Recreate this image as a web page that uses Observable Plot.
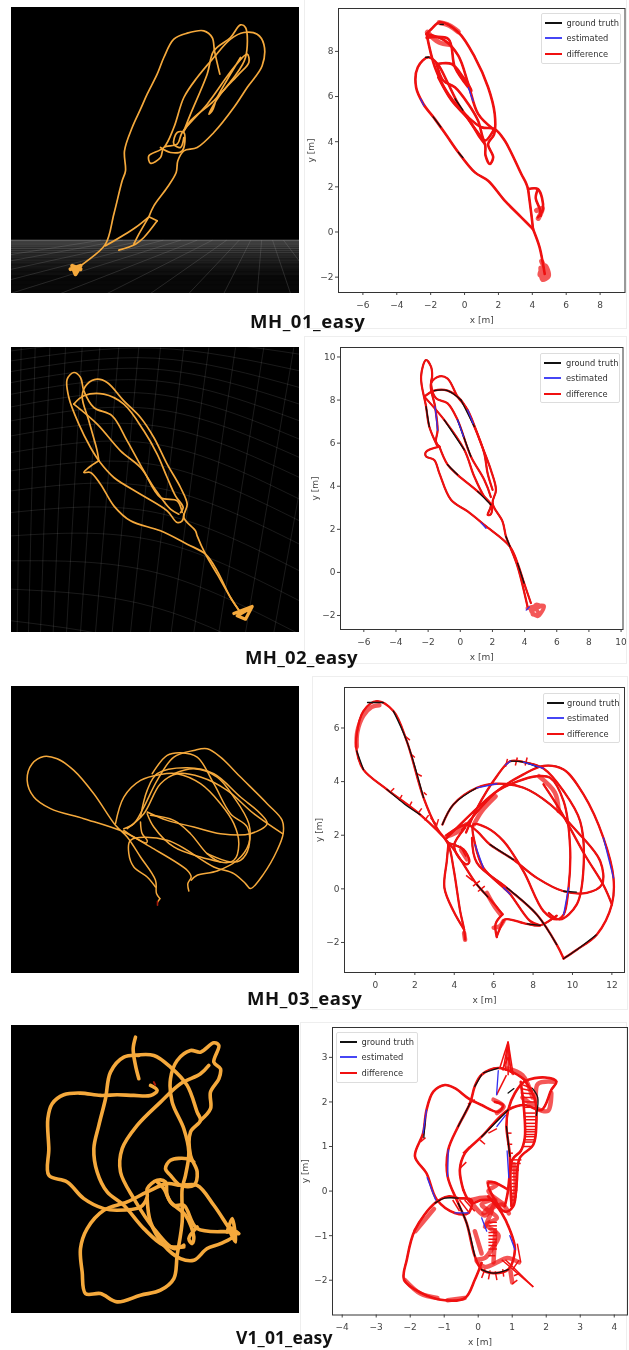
<!DOCTYPE html>
<html>
<head>
<meta charset="utf-8">
<script src="https://cdn.jsdelivr.net/npm/d3@7"></script>
<script src="https://cdn.jsdelivr.net/npm/@observablehq/plot@0.6"></script>
<style>
html,body{margin:0;padding:0;background:#fff;}
#root{position:relative;width:629px;height:1350px;overflow:hidden;}
.caption{position:absolute;font:bold 18.5px "Noto Sans",sans-serif;letter-spacing:.55px;color:#111;white-space:nowrap;line-height:1;filter:blur(.3px);}
.legend{position:absolute;box-sizing:border-box;background:rgba(255,255,255,.9);border:1px solid #ddd;border-radius:2px;font:8.3px "DejaVu Sans",sans-serif;color:#333;filter:blur(.35px);}
.legend div{position:absolute;white-space:nowrap;line-height:10px;}
.legend i{position:absolute;height:2px;width:17px;display:block;}
.sheet{position:absolute;box-sizing:border-box;border:1px solid #eee;}
svg{filter:blur(.35px);}
</style>
</head>
<body>
<div id="root"></div>
<script>
const ORANGE = "#f5a93c";
const legendLabels = ["ground truth", "estimated", "difference"];
const legendColors = ["#111", "#4646f5", "#f01010"];

// ---- tick labels ----
const mh01XTicks = [-6,-4,-2,0,2,4,6,8], mh01YTicks = [-2,0,2,4,6,8];
const mh02XTicks = [-6,-4,-2,0,2,4,6,8,10], mh02YTicks = [-2,0,2,4,6,8,10];
const mh03XTicks = [0,2,4,6,8,10,12], mh03YTicks = [-2,0,2,4,6];
const v101XTicks = [-4,-3,-2,-1,0,1,2,3,4], v101YTicks = [-2,-1,0,1,2,3];

// ---- MH_01 measured trajectory (metres) ----
const mh01Path = [
 [[4.73,-1.86],[4.63,-1.42],[4.43,-.68],[4.04,.13]],
 [[4.04,.13],[3.35,.65],[2.37,1.39],[1.39,2.27],[.61,2.64],[-.37,3.53],[-1.06,4.27],[-1.75,5],[-2.43,5.67],[-2.86,6.41],[-2.76,7.3],[-2.14,7.74],[-1.59,7.44],[-1.06,6.71],[-.37,5.67],[.41,4.79],[1.2,3.9],[1.24,3.38],[1.49,3.01],[1.69,3.31],[1.39,3.9],[1.75,4.34],[1.78,5.23],[1.39,6.41],[.61,7.74],[-.37,8.85],[-1.45,9.29],[-1.94,9],[-2.24,8.77]],
 [[-2.24,8.77],[-1.75,7.3],[-.96,6.11],[.22,5.08],[1,4.64],[1.78,4.56],[2.37,4.05],[3.35,2.57],[3.65,2.13],[3.75,1.9]],
 [[3.75,1.9],[4.33,1.9],[4.63,1.02],[4.33,.65]],
 [[3.75,1.9],[3.94,.8],[4.04,.13]],
 [[4.33,1.9],[4.2,1.5],[4.45,1.0],[4.5,.72]],
 [[-2.24,8.77],[-1.16,8.48],[-.37,7.81],[.22,6.56],[.8,5.23],[1.69,4.56]],
 [[-2.24,8.6],[-.96,8.55],[-.57,7.3],[.22,6.41],[.41,6.26],[-.08,6.85],[-.76,7.44],[-1.65,7.44]],
 [[-1.65,7.44],[-1.25,6.7],[-.57,6.41],[.22,5.67],[.8,4.93],[1.2,4.05],[1.75,4.56]],
 [[-1.55,6.85],[-.76,5.82],[.22,5.0],[.9,4.2],[1.2,3.9]]
];
const mh01Bands = [
 [[-1.5,9.28],[-.9,9.15],[-.37,8.87]],
 [[-2.2,8.85],[-1.5,8.4],[-.9,8.3]],
 [[4.55,-1.3],[4.8,-1.9],[4.45,-1.9],[4.75,-1.5],[4.95,-1.95],[4.6,-2.1],[4.5,-1.6]],
 [[4.25,.95],[4.6,1.05],[4.35,.6]]
];
const mh01Black = [[[-.37,3.53],[-.1,3.3]],[[-1.85,5.1],[-1.4,4.65]],[[-.56,5.9],[-.1,5.4]],[[-1.45,9.2],[-1.25,9.2]],[[-2.3,7.74],[-2.1,7.74]]];
const mh01Blue = [[[-2.6,5.9],[-2.4,5.6]],[[.22,6.4],[.5,5.8]]];

// ---- MH_02 measured trajectory (metres) ----
const mh02Path = [
 [[4.18,-1.58],[3.56,.28],[3.09,1.2],[2.84,1.67],[2.63,2.36],[2.01,3.2],[2.22,3.83],[1.9,4.76],[1.28,6],[.46,7.54],[-.17,8.16],[-.79,9],[-1.3,9.1],[-1.82,8.78],[-1.57,7.7],[-1.41,6.6],[-1.51,6.07],[-1.3,5.84]],
 [[-1.3,5.84],[-2.13,5.6],[-2.13,5.38],[-1.62,5.22],[-1.3,4.6],[-.58,3.37],[.46,2.83],[1.49,2.21],[3.09,1.2],[3.56,.43],[3.97,-.5],[4.39,-1.42]],
 [[-1.3,5.84],[-.79,5],[-.17,4.53],[1.08,3.76],[1.9,3.14],[1.7,2.67],[1.9,2.7],[2.01,3.2]],
 [[-1.45,5.9],[-1.93,6.77],[-2.13,7.7],[-2.44,9.09],[-2.13,9.86],[-1.82,9.55],[-1.75,9.1],[-1.82,8.78],[-1.51,8.08],[-.79,7.85],[-.17,7.08],[.66,5.38],[1.49,4.3],[1.9,3.5]],
 [[-2.24,8.16],[-1.62,8.44],[-.79,8.44],[.04,8],[.87,6.77],[1.49,5.53],[1.7,4.6],[2.01,3.83]],
 [[-2.24,8.16],[-1,7.08],[.25,5.69],[.87,4.45],[1.49,3.52],[1.95,3.14]]
];
const mh02Bands = [
 [[4.18,-1.66],[5.2,-1.55],[4.8,-2.04],[4.39,-1.73],[5,-1.58],[4.7,-1.5],[4.5,-1.95],[4.85,-1.9],[4.6,-1.6]]
];
const mh02Black = [[[-1.62,8.44],[-.79,8.44],[.04,8]],[[-1,7.08],[.25,5.69]],[[-.79,5],[-.17,4.53]],[[1.08,3.76],[1.9,3.14]],[[.04,8],[.87,6.77]],[[-.17,7.08],[.66,5.38]],[[2.84,1.67],[3.09,1.2]],[[3.56,.43],[3.97,-.5]],[[-1.93,6.77],[-2.13,7.7]]];
const mh02Blue = [[[-.17,7.08],[.2,6.3]],[[1.3,2.3],[1.6,2.05]],[[.46,7.54],[.8,6.9]],[[-1.57,7.7],[-1.41,6.6]],[[4.1,-1.75],[4.3,-1.6]]];

// ---- MH_03 measured trajectory (metres) ----
const mh03Path = [
 [[4.55,-1.89],[4.5,-1.52],[4.3,-.83],[3.96,.78],[3.7,1.65],[3.11,2.28],[2.44,3.4],[1.59,5.51],[.91,6.63],[.07,7],[-.61,6.63],[-.95,5.76],[-.95,5.14],[-.61,4.45],[.58,3.71],[2.27,2.77],[3.79,1.65],[5.15,.16],[5.91,-.46],[6.45,-.95]],
 [[6.45,-.95],[6.1,-1.3],[6.16,-1.8]],
 [[3.7,1.65],[3.62,1.03],[3.5,.04],[3.96,-.83],[4.5,-1.52]],
 [[3.75,1.7],[4.47,1.47],[4.77,1.03],[4.64,.91],[4.2,1.2],[4.0,1.65],[4.55,2.28]],
 [[6.16,-1.77],[6.33,-1.46],[6.58,-1.14],[7.68,-1.31],[8.36,-1.36],[9.2,-1.0]],
 [[3.4,2.4],[3.96,3.15],[5.15,3.77],[6.16,3.92],[7.52,3.77],[8.87,3.15],[10.22,2.15],[11.41,1.03],[11.49,.16],[10.73,-.15],[9.55,-.09],[8.19,.41],[7,1.09],[5.82,1.65],[5.15,2.15],[4.64,2.4],[3.6,2.0]],
 [[3.62,1.9],[5.15,3],[6.16,3.64],[7.18,4],[8.19,4.2],[8.87,4.14],[9.55,3.27],[9.88,1.53],[9.8,.04],[9.55,-.96],[9.2,-1.14],[8.53,-.83],[7.51,.66],[6.5,1.78],[5.65,2.28],[4.97,2.4],[5.06,1.65],[5.48,.78],[6.5,.04],[6.84,-.2],[7.85,-1.2],[8.36,-1.36]],
 [[4.6,2.1],[5.15,3],[6.16,4.2],[6.84,4.76],[7.51,4.73],[8.53,4.49],[9.55,3.64],[10.39,2.52],[10.56,.78],[10.22,-.58],[9.37,-1.14],[8.8,-.9]],
 [[4.4,2.2],[6.16,3.64],[7.51,4.27],[8.53,4.59],[9.55,4.45],[10.56,3.52],[11.57,1.9],[12.08,.41],[12,-.58],[11.24,-1.7],[10.22,-2.27],[9.55,-2.6]],
 [[9.55,-2.6],[9.2,-2.08],[8.19,-.96],[6.67,.04],[5.15,.97],[4.9,1.9]],
 [[8.53,3.9],[9.4,2.9],[10.6,1.3],[11.6,.1],[12,-.58]]
];
const mh03Bands = [
 [[-.95,5.3],[-.92,5.85],[-.62,6.45],[-.2,6.78],[.2,6.85]],
 [[5.65,-.15],[6,-.6],[6.35,-.95]],
 [[6,-1.45],[6.3,-1.4],[6.5,-1.2]],
 [[4.5,-1.65],[4.55,-1.9]],
 [[3.6,1.95],[4.1,2.1],[4.6,2.4]],
 [[4.35,1.45],[4.65,1.1]],
 [[6.1,3.45],[5.4,2.9],[5,2.4]],
 [[8.3,4.2],[9.1,3.6],[9.3,2.9]]
];
const mh03Black = [[[3.4,2.4],[3.96,3.15],[5.15,3.77]],[[.58,3.71],[1.5,3.15],[2.27,2.77]],[[2.44,3.4],[1.59,5.51],[.91,6.63]],[[-.95,5.14],[-.61,4.45]],[[5.15,.16],[5.7,-.3]],[[6.84,4.76],[7.51,4.73],[8.2,4.55]],[[9.55,-2.6],[10.22,-2.27],[11.2,-1.72]],[[6.67,.04],[8.19,-.96],[9.2,-2.08]],[[7.7,-1.31],[8.36,-1.36]],[[5.82,1.65],[7,1.09]],[[9.55,-.09],[10.2,-.12]],[[-.4,6.95],[.4,6.95]]];
const mh03Blue = [[[11.57,1.9],[12.08,.41]],[[5.15,3.77],[6.16,3.92]],[[6.6,4.62],[6.84,4.76]],[[7.51,4.73],[8.53,4.49]],[[9.55,-.96],[9.8,.04]],[[5.06,1.65],[5.48,.78]],[[6.5,.04],[6.84,-.2]]];
const mh03Ticks = [
 [.75,3.6,.95,3.75],[1.2,3.3,1.35,3.5],[1.7,3.05,1.85,3.25],[2.15,2.8,2.35,3],[2.5,2.55,2.7,2.75],[1.5,5.7,1.75,5.55],[1.85,5,2,4.9],[2.1,4.3,2.35,4.2],[2.45,3.6,2.6,3.5],
 [4.6,.5,4.95,.3],[4.95,.1,5.3,.3],[5.2,-.1,5.55,.1],[4.3,1.6,4.6,1.2],[6.6,4.55,6.7,4.85],[7.1,4.6,7.2,4.9],[7.6,4.6,7.7,4.9],[3.1,2.35,3.2,2.6],[2.8,2.65,3.1,2.4]
];

// ---- V1_01 measured trajectory (metres) ----
const v101Path = [
 [[1.37,2.49],[1.08,2.64],[.59,2.76],[.1,2.61],[-.1,2.35],[-.24,1.97],[-.59,1.45],[-.88,.93],[-.9,.33],[-.59,-.27],[-.34,-.72],[-.1,-1.46],[.1,-1.76],[.44,-1.84],[.88,-1.76],[1.08,-1.31],[.93,-.87],[.69,-.49],[.29,-.12]],
 [[.49,2],[.73,1.93],[.59,1.78],[.1,1.93],[-.29,2.08],[-.69,2.31],[-.98,2.38],[-1.32,2.23],[-1.52,1.82],[-1.62,1.3],[-1.86,.78],[-1.52,.4],[-1.22,-.19],[-.69,-.49],[-.29,-.49],[-.2,-.2],[-.59,-.16],[-.88,-.12],[-1.27,-.27],[-1.86,-.87],[-2.1,-1.54],[-2.18,-1.99],[-1.67,-2.29],[-.98,-2.45],[-.39,-2.4],[-.1,-1.99],[.1,-1.61]],
 [[-.44,.03],[-.54,.48],[-.39,.85],[.1,1.22],[.88,1.82],[1.37,1.93],[1.86,1.82],[2.15,2.27],[2.3,2.46],[1.96,2.55],[1.37,2.46],[1.08,2.2],[.88,1.82],[.83,1.45],[.93,.78],[.88,.03],[.78,-.34]],
 [[-.44,.03],[-.2,-.27],[.1,-.2],[.4,-.2]],
 [[1.37,2.49],[1.67,2.05],[1.71,1.52],[1.62,1.04],[1.22,.74],[1.13,.18],[1.03,-.34],[.78,-.46],[.29,.18],[.45,.2],[.88,.03]],
 [[1.25,2.45],[1.35,1.8],[1.37,1.2],[1.25,.9],[1.0,.7],[.98,-.34]]
];
const v101Bands = [
 [[.85,2.75],[1.3,2.6],[1.6,2.1]],
 [[1.3,2.1],[1.65,1.95],[1.75,2.4],[2.25,2.45]],
 [[1.72,1.85],[2.05,1.8],[2.15,2.2]],
 [[.45,2.05],[.75,1.9],[.55,1.75]],
 [[-.2,-.25],[.2,-.55],[.5,-.2],[.1,-.3],[.55,-.6],[.25,-.75],[.6,-1.0],[.4,-1.3],[.2,-1.5],[-.05,-1.55],[.2,-1.7],[.55,-1.6],[.85,-1.5],[1.2,-1.6]],
 [[.2,-.8],[.45,-.3],[.15,-.5],[.7,-.3],[.9,-.5]],
 [[.5,-.9],[.45,-1.6]],
 [[-.1,-.9],[.1,-1.4]],
 [[-2.15,-2.0],[-1.7,-2.3],[-1.2,-2.4]],
 [[-.9,-2.45],[-.4,-2.4]],
 [[-1.85,-.9],[-1.3,-.4]],
 [[1,-2.05],[.95,-1.8]],
 [[-.2,-.2],[.3,-.15],[.75,-.3],[.3,0],[.55,.15],[.3,.2]],
 [[1.05,.6],[1.1,.1],[1,-.3]]
];
const v101Black = [[[.1,2.61],[-.1,2.35]],[[.15,2.65],[.59,2.76]],[[-.59,-.16],[-.98,-.16],[-1.27,-.27]],[[-.24,1.97],[-.59,1.45]],[[.1,1.22],[.88,1.82]],[[.83,1.45],[.93,.78]],[[-.59,-.27],[-.34,-.72],[-.1,-1.46]],[[.1,-1.76],[.44,-1.84],[.88,-1.76]],[[1.6,2.3],[1.75,2.1],[1.71,1.7]],[[.88,2.2],[1.05,2.3]],[[-1.6,1.2],[-1.55,1.65]]];
const v101Blue = [[[-1.52,1.82],[-1.62,1.3]],[[-.88,.93],[-.9,.33]],[[-.69,-.49],[-.29,-.49]],[[.93,-1],[1.08,-1.31]],[[.59,2.7],[.54,2.16]],[[-1.5,.3],[-1.25,-.2]],[[.1,-.6],[.25,-.9]],[[.85,.9],[.9,.3]],[[.55,1.45],[.8,1.7]]];
const v101Ticks = [
 [.54,2.16,.83,2.6],
 [.88,3.35,.63,2.75],[.88,3.35,.73,2.7],[.88,3.35,.88,2.6],[.88,3.35,1.03,2.6],[.88,3.35,.8,2.7],[.88,3.35,.96,2.65],[.88,3.0,.7,2.72],[.88,3.0,1.0,2.62],
 [1.25,2.4,1.6,2.3],[1.25,2.3,1.62,2.24],[1.25,2.2,1.65,2.18],[1.3,2.1,1.68,2.1],[1.35,2.0,1.7,2.0],[1.33,1.88,1.7,1.88],[1.32,1.75,1.68,1.75],[1.35,1.67,1.71,1.67],[1.35,1.6,1.71,1.6],[1.37,1.52,1.71,1.52],[1.37,1.45,1.71,1.45],[1.37,1.38,1.71,1.38],[1.37,1.33,1.71,1.33],[1.37,1.27,1.7,1.27],[1.37,1.22,1.68,1.22],[1.35,1.15,1.66,1.15],[1.33,1.1,1.65,1.1],[1.3,1,1.6,1],
 [.98,.7,1.27,.7],[.98,.62,1.25,.62],[.98,.55,1.2,.55],[.98,.47,1.2,.47],[.98,.4,1.17,.4],[.98,.32,1.17,.32],[.98,.25,1.15,.25],[.98,.17,1.15,.17],[.98,.1,1.15,.1],[.98,.02,1.15,.02],[.98,-.05,1.12,-.05],[.98,-.13,1.12,-.13],[.98,-.2,1.1,-.2],[.95,-.34,1.05,-.34],
 [.83,1.3,.98,1.3],[.85,1.05,1,1.05],[.9,.85,1.02,.85],
 [.3,-.7,.55,-.7],[.3,-.78,.55,-.78],[.3,-.85,.55,-.85],[.3,-.93,.55,-.93],[.3,-1,.55,-1],[.3,-1.08,.55,-1.08],[.3,-1.15,.55,-1.15],[.3,-1.22,.55,-1.22],[.3,-1.3,.55,-1.3],[.3,-1.45,.5,-1.45],
 [1.15,-1.18,1.25,-1.6],[.69,-1.54,1.62,-2.15],[.8,-1.54,1.62,-2.15],[1.02,-1.75,1.2,-1.55],[1.0,-2.08,1.15,-2.0],[1.05,-1.9,1.2,-1.85],
 [-.55,-.2,-.25,-.5],[-.4,-.2,-.1,-.45],[-.75,-.2,-.55,-.45],[-.45,.85,-.25,1],[-.55,.5,-.35,.65],[-.3,1.95,-.1,2.05],[-1.7,1.1,-1.55,1.2],[.05,1.15,.2,1.05],[.3,1.3,.55,1.4],
 [.1,-1.95,.2,-1.75],[.3,-1.98,.35,-1.78],[.55,-2,.5,-1.8],[.75,-1.92,.72,-1.75]
];

// ---- 3-D viewer traces, read in panel units ----
const view1Lines = [
 [[225,805],[260,780],[315,730],[340,640],[365,540],[375,510],[372,450],[395,380],[420,325],[440,280],[470,220],[490,170],[520,115],[560,97],[610,90],[635,110],[642,150],[658,220]],
 [[315,735],[405,680],[445,648]],
 [[445,648],[470,660]],
 [[470,660],[430,710],[405,730],[355,748]],
 [[445,648],[415,700],[400,730]],
 [[445,648],[460,615],[500,560],[527,515],[532,480],[550,450],[590,440],[640,395],[700,320],[740,260],[785,195],[790,130],[770,100],[730,95],[690,115],[640,170],[590,230],[550,290],[520,380],[490,440],[445,465],[450,487],[480,470],[490,440],[530,430],[545,395],[620,310],[700,200],[740,160],[745,185],[715,220],[660,280],[625,340],[635,330],[650,290],[690,220],[720,170]],
 [[548,395],[570,340],[620,220],[640,150],[690,110],[720,72],[735,80],[735,170],[700,230],[640,300],[570,360],[548,395]],
 [[480,440],[510,455],[545,450],[550,395],[530,395],[520,430],[540,440],[550,410]]
];
const view1Blob = [[[210,805],[240,795],[225,820],[215,795],[240,805]]];
const view2Lines = [
 [[720,815],[690,770],[650,700],[615,640],[590,585],[585,570],[550,530],[560,490],[540,440],[500,370],[460,290],[420,230],[370,180],[320,125],[290,115],[260,130],[245,165],[265,240],[290,330],[295,360]],
 [[295,360],[265,380],[250,395],[270,395],[300,430],[340,495],[390,540],[480,570],[560,610],[615,640],[650,690],[690,770],[720,815]],
 [[295,360],[270,320],[235,250],[205,170],[200,115],[220,95],[240,110],[250,150],[280,200],[335,225],[380,300],[430,390],[480,470],[530,480],[545,515]],
 [[220,190],[250,165],[310,160],[370,190],[430,270],[470,340],[500,410],[525,465],[548,500],[540,515]],
 [[220,190],[290,250],[360,330],[420,380],[460,440],[510,505],[535,520]],
 [[295,360],[340,410],[420,460],[500,510],[530,545],[545,540],[550,520]]
];
const view2Blob = [[[700,818],[755,797],[735,835],[710,825],[745,805],[725,815]]];
const view3Lines = [
 [[478,655],[468,640],[465,600],[420,530],[380,470],[345,435],[280,340],[220,270],[170,235],[130,228],[95,250],[80,300],[100,350],[150,385],[250,415],[370,455],[450,500],[560,570],[572,590],[562,610],[565,632]],
 [[472,665],[478,655]],
 [[572,600],[590,585],[650,572],[710,540],[745,490],[745,430],[700,350],[650,290],[580,265],[520,280]],
 [[345,430],[370,350],[420,300],[480,282],[530,280],[600,310],[660,370],[700,430],[715,490],[700,540],[660,545],[620,520],[570,460],[520,420],[450,405]],
 [[370,445],[400,430],[430,380],[470,300],[520,230],[580,210],[620,205],[660,230],[720,290],[800,370],[845,420],[848,460],[830,510],[790,580],[750,625],[735,610],[700,580],[640,560],[500,480],[390,480],[385,520],[400,560],[440,590],[465,620]],
 [[440,395],[500,420],[580,440],[660,460],[750,460],[800,430],[780,400],[720,350],[640,280],[560,262],[470,280],[440,330],[420,410]],
 [[455,280],[500,225],[540,217],[590,230],[640,310],[690,400],[740,440],[745,500],[720,540],[690,545],[620,520]],
 [[440,400],[460,440],[520,500],[600,530],[660,545]],
 [[420,425],[425,460],[440,480],[438,488],[400,470],[370,450]],
 [[846,460],[760,400],[680,330],[600,290],[530,280],[480,310],[430,400],[380,445]]
];
const view3Start = [[[471,664],[471,675]]];
const view4Lines = [
 [[405,65],[398,100],[405,150],[415,190]],
 [[450,210],[470,225],[450,240],[400,240],[350,238],[300,240],[240,233],[190,238],[155,265],[142,310],[145,400],[145,480],[200,500],[250,550],[310,580],[350,585],[420,575],[440,545],[440,520],[470,495],[495,500],[500,540],[520,570],[550,570],[590,640],[690,650],[710,655]],
 [[415,120],[370,125],[330,170],[315,250],[295,330],[280,400],[290,470],[320,530],[370,570],[430,640],[490,690],[550,695]],
 [[400,120],[460,120],[510,155],[560,210],[590,290],[600,315],[570,350],[570,420],[590,470],[580,510],[540,510],[510,480],[495,460],[510,435],[560,430],[580,440]],
 [[600,315],[630,280],[630,230],[655,190],[660,160],[640,140],[655,90],[640,82],[600,110],[570,105],[530,135],[510,190],[515,260],[550,340],[565,410],[555,480],[545,520],[545,620],[530,720],[520,790],[480,825],[420,840],[350,860],[300,835],[255,835],[245,770],[240,700],[260,640],[310,585],[380,560],[440,530],[500,505],[540,510],[590,510],[640,570],[680,630],[700,660],[660,685],[620,700],[580,735],[540,730],[490,690],[450,620],[440,550]],
 [[625,150],[600,175],[540,205],[480,260],[410,330],[365,400],[360,470],[400,550],[460,640],[520,700],[550,690]],
 [[590,635],[565,670],[575,685],[580,665],[555,600],[510,560],[490,520],[470,500]],
 [[680,650],[695,610],[705,680],[685,635],[715,655]]
];
const view4Start = [[[460,200],[464,208]]];

// viewer background grids
const floorBandTops = [718,726,736,746,758,772,788,806,826];
const floorBandBottoms = [726,736,746,758,772,788,806,826,878];
const floorBandLight = [.36,.31,.26,.22,.17,.13,.09,.06,.03];
const floorRows = [722,726,730,735,740,746,752,759,766,774,783,792,802,813,825,838,852,868];
const floorRayBottoms = [-700,-500,-300,-130,30,180,320,450,565,670,770,870,970];
const floorVanishX = 790, floorVanishY = 640;
const wallColsTop = [20,62,104,148,195,245,298,355,415,480,550,625,705,790,880,975];
const wallColsBottom = [15,50,84,120,158,198,240,285,335,390,448,512,580,655,735,820];
const wallRowsLeft = [30,60,92,125,160,198,240,285,335,390,450,515,585,660,745,840];
const wallRowsMid = [-5,22,52,85,120,160,205,255,310,372,440,515,600,695,800,920];
const wallRowsRight = [40,90,140,190,240,295,350,410,475,540,610,690,780,880,990,1110];

const rows = ls => ls.flatMap((l,i) => l.map(p => ({x:p[0], y:p[1], id:i})));
const root = document.getElementById("root");
function put(node,l,t){node.style.position="absolute";node.style.left=l+"px";node.style.top=t+"px";root.append(node);}

function sheet(l,t,w,h){const d=document.createElement("div");d.className="sheet";Object.assign(d.style,{left:l+"px",top:t+"px",width:w+"px",height:h+"px"});root.append(d);}
sheet(304,-2,323,331);sheet(304,336,323,328);sheet(312,676,316,334);sheet(300,1022,327,340);

function viewer({left,top,w,h,yDom,lines,width,extra=[],over=[]}){
  const p = Plot.plot({
    width:w,height:h,margin:0,
    style:{background:"#000",display:"block"},
    x:{domain:[33,897],axis:null},y:{domain:yDom,axis:null},
    marks:[
      ...extra,
      Plot.line(rows(lines),{x:"x",y:"y",z:"id",stroke:ORANGE,strokeWidth:width,curve:"catmull-rom"}),
      ...over
    ]
  });
  put(p,left,top);
}

const floorMarks = [
  Plot.rect(floorBandTops.map((t,i)=>({t,b:floorBandBottoms[i],o:floorBandLight[i]})),{x1:33,x2:897,y1:"t",y2:"b",fill:"#fff",fillOpacity:"o"}),
  Plot.ruleY(floorRows,{stroke:"#000",strokeOpacity:.45,strokeWidth:.7}),
  Plot.link(floorRayBottoms,{x1:d=>floorVanishX+(d-floorVanishX)*(718-floorVanishY)/(878-floorVanishY),y1:718,x2:d=>d,y2:878,stroke:"#aaa",strokeOpacity:.28,strokeWidth:.7,clip:true})
];
const wallMarks = [
  Plot.link(wallColsTop,{x1:d=>d,y1:20,x2:(d,i)=>wallColsBottom[i],y2:875,stroke:"#fff",strokeOpacity:.13,strokeWidth:.8,clip:true}),
  Plot.line(wallRowsLeft.flatMap((l,i)=>[{x:33,y:l,i},{x:465,y:wallRowsMid[i],i},{x:897,y:wallRowsRight[i],i}]),{x:"x",y:"y",z:"i",curve:"natural",stroke:"#fff",strokeOpacity:.13,strokeWidth:.8,clip:true})
];

viewer({left:11,top:7,w:288,h:286,yDom:[878,20],lines:view1Lines,width:1.7,extra:floorMarks,
  over:[Plot.line(rows(view1Blob),{x:"x",y:"y",z:"id",stroke:ORANGE,strokeWidth:4})]});
viewer({left:11,top:347,w:288,h:285,yDom:[875,20],lines:view2Lines,width:1.7,extra:wallMarks,
  over:[Plot.line(rows(view2Blob),{x:"x",y:"y",z:"id",stroke:ORANGE,strokeWidth:3.2})]});
viewer({left:11,top:686,w:288,h:287,yDom:[880,18],lines:view3Lines,width:1.5,
  over:[Plot.line(rows(view3Start),{x:"x",y:"y",z:"id",stroke:"#a81808",strokeWidth:1.6})]});
viewer({left:11,top:1025,w:288,h:288,yDom:[895,30],lines:view4Lines,width:3.6,
  over:[Plot.line(rows(view4Start),{x:"x",y:"y",z:"id",stroke:"#a81808",strokeWidth:2})]});

const tickText = d => d < 0 ? "\u2212" + (-d) : String(d);
function traj({fl,ft,fw,fh,xDom,yDom,xTicks,yTicks,path,bands,black,blue,ticks=[],ylo,xlo=30,redW=2.5,bandW=5,tickW=1.5}){
  const ml=34,mt=3,mr=2,mb=36;
  const p = Plot.plot({
    width:fw+ml+mr,height:fh+mt+mb,marginLeft:ml,marginTop:mt,marginRight:mr,marginBottom:mb,
    style:{background:"transparent",fontFamily:"DejaVu Sans",fontSize:"9px",color:"#444",display:"block",overflow:"visible"},
    x:{domain:xDom},y:{domain:yDom},
    marks:[
      Plot.axisX({ticks:xTicks,tickFormat:tickText,tickSize:3,tickPadding:6,label:"x [m]",labelAnchor:"center",labelArrow:"none",labelOffset:xlo}),
      Plot.axisY({ticks:yTicks,tickFormat:tickText,tickSize:3,tickPadding:2,label:"y [m]",labelAnchor:"center",labelArrow:"none",labelOffset:ylo}),
      Plot.line(rows(path),{x:"x",y:"y",z:"id",stroke:"#111",strokeWidth:1.4,curve:"catmull-rom"}),
      Plot.line(rows(bands),{x:"x",y:"y",z:"id",stroke:"#f01010",strokeWidth:bandW,strokeOpacity:.7,curve:"catmull-rom"}),
      Plot.link(ticks,{x1:"0",y1:"1",x2:"2",y2:"3",stroke:"#f01010",strokeWidth:tickW}),
      Plot.line(rows(path),{x:"x",y:"y",z:"id",stroke:"#f01010",strokeWidth:redW,curve:"catmull-rom"}),
      Plot.line(rows(black),{x:"x",y:"y",z:"id",stroke:"#111",strokeWidth:1.3,curve:"catmull-rom"}),
      Plot.line(rows(blue),{x:"x",y:"y",z:"id",stroke:"#3030f0",strokeWidth:1.3,curve:"catmull-rom"}),
      Plot.frame({stroke:"#333",strokeWidth:1})
    ]
  });
  put(p,fl-ml,ft-mt);
}
traj({fl:337.5,ft:8,fw:286.5,fh:284,xDom:[-7.44,9.47],yDom:[-2.68,9.9],xTicks:mh01XTicks,yTicks:mh01YTicks,path:mh01Path,bands:mh01Bands,black:mh01Black,blue:mh01Blue,ylo:31,redW:2.6});
traj({fl:340,ft:347,fw:282.5,fh:282,xDom:[-7.45,10.12],yDom:[-2.65,10.44],xTicks:mh02XTicks,yTicks:mh02YTicks,path:mh02Path,bands:mh02Bands,black:mh02Black,blue:mh02Blue,ylo:29,redW:2.2,bandW:4});
traj({fl:344,ft:686.5,fw:280,fh:285,xDom:[-1.57,12.64],yDom:[-3.12,7.51],xTicks:mh03XTicks,yTicks:mh03YTicks,path:mh03Path,bands:mh03Bands,black:mh03Black,blue:mh03Blue,ticks:mh03Ticks,ylo:29,redW:2.3,bandW:4.5});
traj({fl:331.5,ft:1026.5,fw:295,fh:287.5,xDom:[-4.285,4.39],yDom:[-2.78,3.67],xTicks:v101XTicks,yTicks:v101YTicks,path:v101Path,bands:v101Bands,black:v101Black,blue:v101Blue,ticks:v101Ticks,ylo:31,redW:2.6,bandW:4.5});

function legend(l,t,w,h,lineX,textX){
  const d=document.createElement("div");d.className="legend";
  Object.assign(d.style,{left:l+"px",top:t+"px",width:w+"px",height:h+"px"});
  legendLabels.forEach((s,i)=>{
    const y=Math.round(7.5+i*15.8);
    const k=document.createElement("i");k.style.left=lineX+"px";k.style.top=y+"px";k.style.background=legendColors[i];d.append(k);
    const e=document.createElement("div");e.textContent=s;e.style.left=textX+"px";e.style.top=(y-4)+"px";d.append(e);
  });
  root.append(d);
}
legend(540.5,13,80,50.5,3,25);
legend(540,352.5,79.5,50.5,3,25);
legend(542.5,692.5,77.5,50.5,3,23.5);
legend(335.5,1031.5,82,51,3,25);

[["MH_01_easy",250,311.5,18.5,.55],["MH_02_easy",245,647.5,18.5,.3],["MH_03_easy",247,989,18.5,.55],["V1_01_easy",236,1328.5,17.5,.1]].forEach(([t,l,y,s,ls])=>{
  const c=document.createElement("div");c.className="caption";c.textContent=t;c.style.left=l+"px";c.style.top=y+"px";c.style.fontSize=s+"px";c.style.letterSpacing=ls+"px";root.append(c);
});
</script>
</body>
</html>
